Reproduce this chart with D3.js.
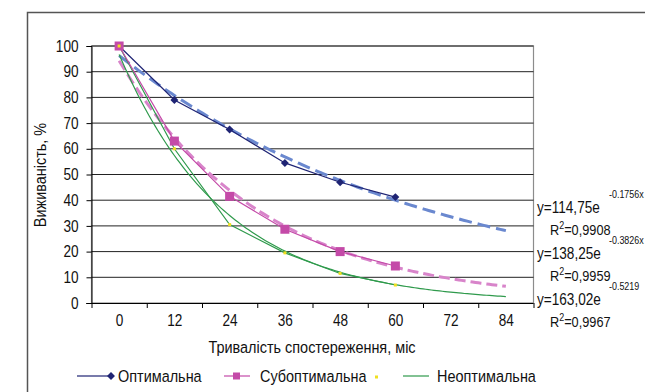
<!DOCTYPE html>
<html>
<head>
<meta charset="utf-8">
<script src="https://cdn.jsdelivr.net/npm/d3@7/dist/d3.min.js"></script>
<style>
  body { margin: 0; background: #fff; }
  svg text { font-family: "Liberation Sans", Arial, sans-serif; fill: #111; }
</style>
</head>
<body>
<div id="chart"></div>
<script>
// categories (months) and survival values, %
const months = [0, 12, 24, 36, 48, 60, 72, 84];
const optimal = [100, 79, 67.5, 54.5, 47, 41.2];
const suboptimal = [100, 63, 41.5, 28.7, 20, 14.4];
const nonoptimal = [100, 60, 30.5, 19.5, 11.5, 7];
const yTicks = [0, 10, 20, 30, 40, 50, 60, 70, 80, 90, 100];

// exponential trendlines y = a * e^(-b*x), x = category index (1..8)
const trendA = [114.75, 138.25, 163.02];
const trendB = [0.1756, 0.3826, 0.5219];
const trendLabels = ["y=114,75e", "y=138,25e", "y=163,02e"];
const trendExp = ["-0.1756x", "-0.3826x", "-0.5219"];
const trendR2 = ["=0,9908", "=0,9959", "=0,9967"];

const seriesNames = ["Оптимальна", "Субоптимальна", "", "Неоптимальна"];

const W = 645, H = 392;
const plot = { left: 91.5, right: 533.5, top: 46, bottom: 303 };
const NARROW = 0.85; // squeeze Arial-like glyphs to look like Arial Narrow

const svg = d3.select("#chart").append("svg")
    .attr("width", W)
    .attr("height", H);

// outer chart border (cut by the picture edges)
svg.append("rect")
    .attr("x", 27.5).attr("y", 12.5)
    .attr("width", 700).attr("height", 500)
    .attr("fill", "none")
    .attr("stroke", "#555")
    .attr("stroke-width", 1.5);

// x: category index scale (categories sit between the tick marks)
const x = d3.scaleLinear()
    .domain([0.5, months.length + 0.5])
    .range([plot.left, plot.right]);

const y = d3.scaleLinear()
    .domain([0, 100])
    .range([plot.bottom, plot.top]);

// plot area frame
svg.append("rect")
    .attr("x", plot.left).attr("y", plot.top)
    .attr("width", plot.right - plot.left)
    .attr("height", plot.bottom - plot.top)
    .attr("fill", "none")
    .attr("stroke", "#8c8c8c")
    .attr("stroke-width", 1.2);

// gridlines
svg.append("g")
    .selectAll("line")
    .data(yTicks.filter(d => d > 0))
    .join("line")
    .attr("x1", plot.left).attr("x2", plot.right)
    .attr("y1", d => y(d)).attr("y2", d => y(d))
    .attr("stroke", "#222")
    .attr("stroke-width", 1);

// Y axis
const yAxis = svg.append("g")
    .attr("transform", "translate(" + plot.left + ",0)")
    .call(d3.axisLeft(y).tickValues(yTicks).tickSize(5).tickPadding(8));
yAxis.selectAll("text").style("font-size", "16px");

// X axis: tick marks on category boundaries, labels at category centres
const bounds = d3.range(0.5, months.length + 1, 1);
const xAxis = svg.append("g")
    .attr("transform", "translate(0," + plot.bottom + ")")
    .call(d3.axisBottom(x).tickValues(bounds).tickFormat("").tickSize(5));
xAxis.select(".domain").attr("d", "M" + (plot.left - 5) + ",0.5H" + plot.right);

const xLabels = svg.append("g")
    .attr("transform", "translate(0," + plot.bottom + ")")
    .call(d3.axisBottom(x).tickValues(months.map((m, i) => i + 1))
        .tickFormat(i => months[i - 1]).tickSize(0).tickPadding(12));
xLabels.select(".domain").remove();
xLabels.selectAll("text").style("font-size", "16px");

[yAxis, xAxis].forEach(a => a.selectAll("line, path").attr("stroke", "#000"));

// axis titles
svg.append("text")
    .attr("x", 312).attr("y", 353)
    .attr("text-anchor", "middle")
    .style("font-size", "17px")
    .text("Тривалість спостереження, міс");

svg.append("text")
    .attr("transform", "translate(46,175) rotate(-90)")
    .attr("text-anchor", "middle")
    .style("font-size", "17px")
    .text("Виживаність, %");

// trendlines
const trendColors = ["#6a88cf", "#d884ca", "#2f9a4c"];
const trendDash = ["13,6", "11,5", null];
const trendWidth = [3, 3, 1.2];
const tSteps = d3.range(1, months.length + 0.001, 0.05);
trendA.forEach((a, k) => {
    svg.append("path")
        .datum(tSteps)
        .attr("fill", "none")
        .attr("stroke", trendColors[k])
        .attr("stroke-width", trendWidth[k])
        .attr("stroke-dasharray", trendDash[k])
        .attr("d", d3.line()
            .x(t => x(t))
            .y(t => y(a * Math.exp(-trendB[k] * t))));
});

// data lines
const line = d3.line()
    .x((d, i) => x(i + 1))
    .y(d => y(d));

svg.append("path").datum(nonoptimal)
    .attr("fill", "none").attr("stroke", "#2f9a4c").attr("stroke-width", 1.2)
    .attr("d", line);
svg.append("path").datum(suboptimal)
    .attr("fill", "none").attr("stroke", "#c44aa8").attr("stroke-width", 1.2)
    .attr("d", line);
svg.append("path").datum(optimal)
    .attr("fill", "none").attr("stroke", "#1f2474").attr("stroke-width", 1.2)
    .attr("d", line);

// markers
svg.append("g").selectAll("path")
    .data(optimal)
    .join("path")
    .attr("transform", (d, i) => "translate(" + x(i + 1) + "," + y(d) + ")")
    .attr("d", d3.symbol(d3.symbolDiamond2, 40))
    .attr("fill", "#1f2474");

svg.append("g").selectAll("rect")
    .data(suboptimal)
    .join("rect")
    .attr("x", (d, i) => x(i + 1) - 4.5)
    .attr("y", d => y(d) - 4.5)
    .attr("width", 9).attr("height", 9)
    .attr("fill", "#c44aa8");

svg.append("g").selectAll("rect")
    .data(nonoptimal)
    .join("rect")
    .attr("x", (d, i) => x(i + 1) - 1.5)
    .attr("y", d => y(d) - 1.5)
    .attr("width", 3).attr("height", 3)
    .attr("fill", "#f0e020");

// trend equations on the right
const eqX = 537, eqY = [213, 259, 305];
trendLabels.forEach((lab, k) => {
    svg.append("text")
        .attr("x", eqX).attr("y", eqY[k])
        .style("font-size", "16px")
        .text(lab);
    svg.append("text")
        .attr("x", 609).attr("y", eqY[k] - 15)
        .style("font-size", "10.5px")
        .text(trendExp[k]);
    const r = svg.append("text")
        .attr("x", 550).attr("y", eqY[k] + 22)
        .style("font-size", "15px");
    r.append("tspan").text("R");
    r.append("tspan").attr("dy", -6).style("font-size", "10.5px").text("2");
    r.append("tspan").attr("dy", 6).text(trendR2[k]);
});

// legend
const legY = 376;
const leg = svg.append("g");
leg.append("line").attr("x1", 77).attr("x2", 108).attr("y1", legY).attr("y2", legY)
    .attr("stroke", "#1f2474").attr("stroke-width", 1.2);
leg.append("path").attr("transform", "translate(111," + legY + ")")
    .attr("d", d3.symbol(d3.symbolDiamond2, 40)).attr("fill", "#1f2474");
leg.append("text").attr("x", 118).attr("y", legY + 6).style("font-size", "17px").text(seriesNames[0]);

leg.append("line").attr("x1", 224).attr("x2", 250).attr("y1", legY).attr("y2", legY)
    .attr("stroke", "#c44aa8").attr("stroke-width", 1.2);
leg.append("rect").attr("x", 233).attr("y", legY - 3.5).attr("width", 7).attr("height", 7)
    .attr("fill", "#c44aa8");
leg.append("text").attr("x", 260).attr("y", legY + 6).style("font-size", "17px").text(seriesNames[1]);

leg.append("rect").attr("x", 375).attr("y", legY - 0.5).attr("width", 3).attr("height", 3)
    .attr("fill", "#f0e020");

leg.append("line").attr("x1", 403).attr("x2", 429).attr("y1", legY).attr("y2", legY)
    .attr("stroke", "#2f9a4c").attr("stroke-width", 1.2);
leg.append("text").attr("x", 437).attr("y", legY + 6).style("font-size", "17px").text(seriesNames[3]);

// squeeze every text horizontally (narrow typeface look)
svg.selectAll("text").each(function () {
    const t = d3.select(this);
    const xv = +t.attr("x") || 0;
    t.attr("x", xv / NARROW)
        .attr("transform", (t.attr("transform") || "") + " scale(" + NARROW + ",1)");
});
</script>
</body>
</html>
